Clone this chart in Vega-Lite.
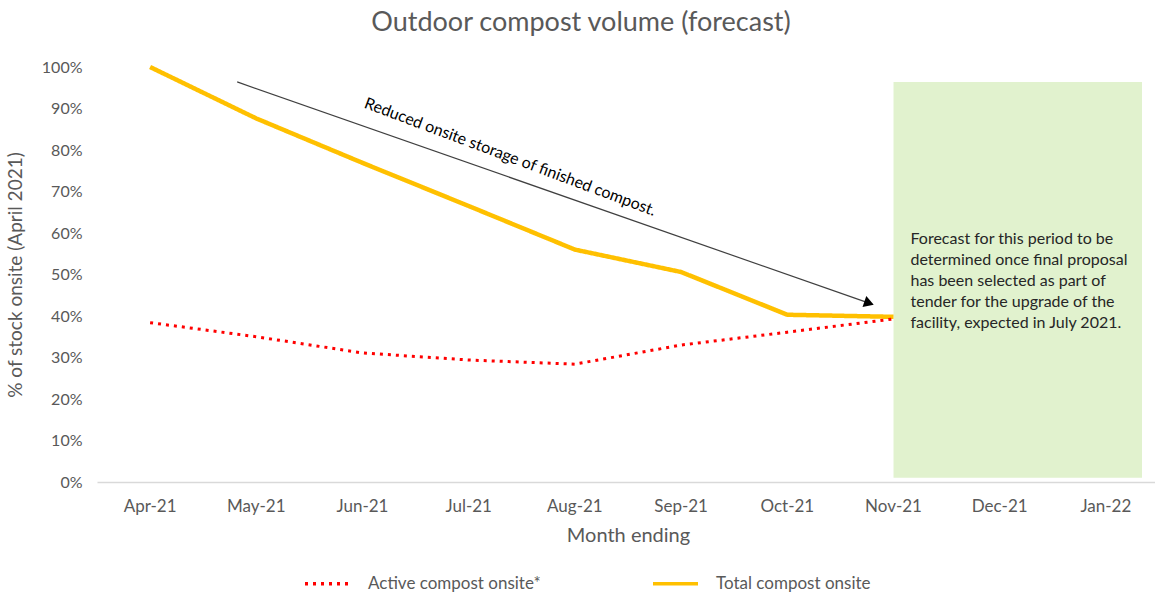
{
  "$schema": "https://vega.github.io/schema/vega-lite/v6.json",
  "autosize": "none",
  "width": 1062,
  "height": 415,
  "padding": {"left": 97, "top": 67, "right": 0, "bottom": 111},
  "background": "white",
  "config": {
    "view": {"stroke": null},
    "font": "Lato",
    "axis": {"labelFont": "Lato", "titleFont": "Lato", "labelColor": "#595959", "titleColor": "#595959", "titleFontWeight": "normal"},
    "legend": {"labelFont": "Lato"}
  },
  "title": {
    "text": "Outdoor compost volume (forecast)",
    "fontSize": 27,
    "font": "Lato",
    "fontWeight": "normal",
    "color": "#595959",
    "anchor": "middle",
    "frame": "group",
    "dx": -47,
    "offset": 22
  },
  "datasets": {
    "series": [
      {"month": "Apr-21", "series": "Total compost onsite", "value": 1.0},
      {"month": "May-21", "series": "Total compost onsite", "value": 0.876},
      {"month": "Jun-21", "series": "Total compost onsite", "value": 0.769},
      {"month": "Jul-21", "series": "Total compost onsite", "value": 0.665},
      {"month": "Aug-21", "series": "Total compost onsite", "value": 0.56},
      {"month": "Sep-21", "series": "Total compost onsite", "value": 0.506},
      {"month": "Oct-21", "series": "Total compost onsite", "value": 0.403},
      {"month": "Nov-21", "series": "Total compost onsite", "value": 0.398},
      {"month": "Apr-21", "series": "Active compost onsite*", "value": 0.384},
      {"month": "May-21", "series": "Active compost onsite*", "value": 0.35},
      {"month": "Jun-21", "series": "Active compost onsite*", "value": 0.311},
      {"month": "Jul-21", "series": "Active compost onsite*", "value": 0.294},
      {"month": "Aug-21", "series": "Active compost onsite*", "value": 0.284},
      {"month": "Sep-21", "series": "Active compost onsite*", "value": 0.33},
      {"month": "Oct-21", "series": "Active compost onsite*", "value": 0.361},
      {"month": "Nov-21", "series": "Active compost onsite*", "value": 0.393}
    ],
    "zone": [
      {"x": 7.5, "x2": 9.84, "y": 0.01, "y2": 0.964}
    ],
    "arrow": [
      {"x": 1.32, "y": 0.964, "x2": 7.27, "y2": 0.431}
    ],
    "arrowhead": [
      {"x": 7.27, "y": 0.431}
    ],
    "slanted": [
      {"x": 3.89, "y": 0.783, "label": "Reduced onsite storage of finished compost."}
    ],
    "note": [
      {"x": 7.66, "y": 0.605, "label": "Forecast for this period to be\ndetermined once final proposal\nhas been selected as part of\ntender for the upgrade of the\nfacility, expected in July 2021."}
    ]
  },
  "resolve": {"scale": {"x": "independent"}},
  "layer": [
    {
      "data": {"name": "zone"},
      "mark": {"type": "rect", "fill": "#92D050", "opacity": 0.28},
      "encoding": {
        "x": {"field": "x", "type": "quantitative", "scale": {"domain": [0, 10], "nice": false, "zero": false}, "axis": null},
        "x2": {"field": "x2"},
        "y": {"field": "y", "type": "quantitative", "scale": {"domain": [0, 1]},
          "axis": {"title": "% of stock onsite (April 2021)", "format": ".0%", "values": [0,0.1,0.2,0.3,0.4,0.5,0.6,0.7,0.8,0.9,1], "labelFontSize": 16, "titleFontSize": 19, "ticks": false, "domain": false, "grid": false, "labelPadding": 15, "titlePadding": 16}},
        "y2": {"field": "y2"}
      }
    },
    {
      "data": {"name": "series"},
      "layer": [
        {
          "transform": [{"filter": "datum.series === 'Total compost onsite'"}],
          "mark": {"type": "line", "strokeWidth": 4.5, "strokeJoin": "round"},
          "encoding": {
            "x": {"field": "month", "type": "nominal", "sort": null,
              "scale": {"type": "band", "domain": ["Apr-21","May-21","Jun-21","Jul-21","Aug-21","Sep-21","Oct-21","Nov-21","Dec-21","Jan-22"], "paddingInner": 0, "paddingOuter": 0},
              "axis": {"title": "Month ending", "labelAngle": 0, "labelFontSize": 17, "titleFontSize": 20, "ticks": false, "domainColor": "#D9D9D9", "domainWidth": 1.5, "labelPadding": 16, "titlePadding": 11}},
            "y": {"field": "value", "type": "quantitative"},
            "color": {"field": "series", "type": "nominal",
              "scale": {"domain": ["Active compost onsite*", "Total compost onsite"], "range": ["#FF0000", "#FFC000"]},
              "legend": {"title": null, "orient": "none", "legendX": 206, "legendY": 492, "direction": "horizontal", "symbolType": "stroke", "symbolSize": 2025, "symbolStrokeWidth": 3.5, "labelFontSize": 17, "labelColor": "#595959", "labelOffset": 16, "labelLimit": 400, "columnPadding": 105}},
            "strokeDash": {"field": "series", "type": "nominal",
              "scale": {"domain": ["Active compost onsite*", "Total compost onsite"], "range": [[3, 5], [1, 0]]},
              "legend": {"title": null, "orient": "none", "legendX": 206, "legendY": 492, "direction": "horizontal", "symbolType": "stroke", "symbolSize": 2025, "symbolStrokeWidth": 3.5, "labelFontSize": 17, "labelColor": "#595959", "labelOffset": 16, "labelLimit": 400, "columnPadding": 105}}
          }
        },
        {
          "transform": [{"filter": "datum.series === 'Active compost onsite*'"}],
          "mark": {"type": "line", "strokeWidth": 3},
          "encoding": {
            "x": {"field": "month", "type": "nominal", "sort": null},
            "y": {"field": "value", "type": "quantitative"},
            "color": {"field": "series", "type": "nominal"},
            "strokeDash": {"field": "series", "type": "nominal"}
          }
        }
      ]
    },
    {
      "data": {"name": "arrow"},
      "mark": {"type": "rule", "color": "#404040", "strokeWidth": 1.2},
      "encoding": {
        "x": {"field": "x", "type": "quantitative", "scale": {"domain": [0, 10], "nice": false, "zero": false}, "axis": null},
        "x2": {"field": "x2"},
        "y": {"field": "y", "type": "quantitative"},
        "y2": {"field": "y2"}
      }
    },
    {
      "data": {"name": "arrowhead"},
      "mark": {"type": "point", "shape": "triangle-right", "filled": true, "color": "#000000", "size": 130, "angle": 19.3, "opacity": 1},
      "encoding": {
        "x": {"field": "x", "type": "quantitative", "scale": {"domain": [0, 10], "nice": false, "zero": false}, "axis": null},
        "y": {"field": "y", "type": "quantitative"}
      }
    },
    {
      "data": {"name": "slanted"},
      "mark": {"type": "text", "angle": 20.5, "fontSize": 16, "font": "Lato", "color": "#000000", "align": "center", "baseline": "middle"},
      "encoding": {
        "x": {"field": "x", "type": "quantitative", "scale": {"domain": [0, 10], "nice": false, "zero": false}, "axis": null},
        "y": {"field": "y", "type": "quantitative"},
        "text": {"field": "label"}
      }
    },
    {
      "data": {"name": "note"},
      "mark": {"type": "text", "fontSize": 16, "font": "Lato", "color": "#262626", "align": "left", "baseline": "top", "lineBreak": "\n", "lineHeight": 21},
      "encoding": {
        "x": {"field": "x", "type": "quantitative", "scale": {"domain": [0, 10], "nice": false, "zero": false}, "axis": null},
        "y": {"field": "y", "type": "quantitative"},
        "text": {"field": "label"}
      }
    }
  ]
}
